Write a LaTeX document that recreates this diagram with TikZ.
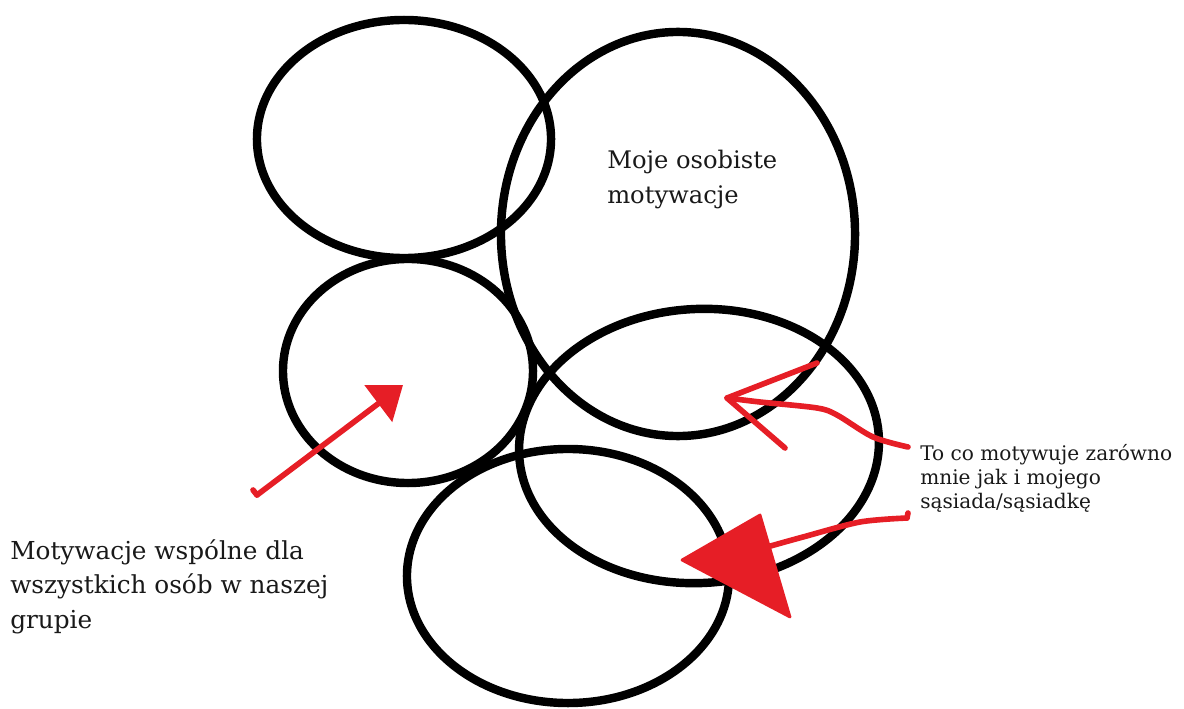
\documentclass[tikz,border=0pt]{standalone}
\usepackage{fontspec}
\setmainfont{DejaVu Serif}
\usetikzlibrary{shapes.geometric,arrows.meta}
\definecolor{pen}{RGB}{230,30,38}

\begin{document}
\begin{tikzpicture}[
    x=0.025cm, y=-0.025cm,
    ring/.style={ellipse, draw=black, line width=6pt, inner sep=0pt},
    note/.style={align=left, anchor=north west, inner sep=0pt, text=black!90},
    redpen/.style={draw=pen, line width=4pt, line cap=round, line join=round},
    blot/.style={fill=pen, draw=pen, line width=2pt, line join=round}
]
    \useasboundingbox (0,0) rectangle (1184,709);

    % circles
    \node (top) [ring, minimum width=7.35cm, minimum height=5.95cm] at (404,139) {};
    \node (own) [ring, minimum width=8.85cm, minimum height=10.1cm] at (678,234) {};
    \node (common) [ring, minimum width=6.25cm, minimum height=5.6cm] at (408,371) {};
    \node (shared) [ring, minimum width=9.0cm, minimum height=6.85cm, rotate=3] at (699,446) {};
    \node (bottom) [ring, minimum width=8.05cm, minimum height=6.35cm] at (568,576) {};

    % texts
    \node (owntext) [note, font=\fontsize{17.2}{24.5}\selectfont] at (607,150) {Moje osobiste\\motywacje};
    \node (commontext) [note, font=\fontsize{17.6}{24.8}\selectfont] at (10,539) {Motywacje wspólne dla\\wszystkich osób w naszej\\grupie};
    \node (sharedtext) [note, font=\fontsize{14.3}{17}\selectfont] at (920,444) {To co motywuje zarówno\\mnie jak i mojego\\sąsiada/sąsiadkę};

    % red arrows
    \coordinate (a0) at (257,495);
    \coordinate (a1) at (403,385);
    \draw [redpen] (253,490) -- (a0);
    \draw [redpen, -{Triangle[length=22pt, width=32pt]}] (a0) -- (a1);

    \coordinate (b0) at (908,447);
    \coordinate (b1) at (727,398);
    \draw [redpen] plot [smooth] coordinates {(b0) (873,437) (837,415) (817,408) (760,402) (b1)};
    \draw [redpen] (817,363) -- (b1) -- (785,448);

    \coordinate (c0) at (907,518);
    \coordinate (c1) at (767,547);
    \draw [redpen] (908,513) -- (c0);
    \draw [redpen] plot [smooth] coordinates {(c0) (860,522) (803,537) (c1)};
    \draw [blot] (760,515) -- (682,560) -- (790,617) -- cycle;
\end{tikzpicture}
\end{document}
